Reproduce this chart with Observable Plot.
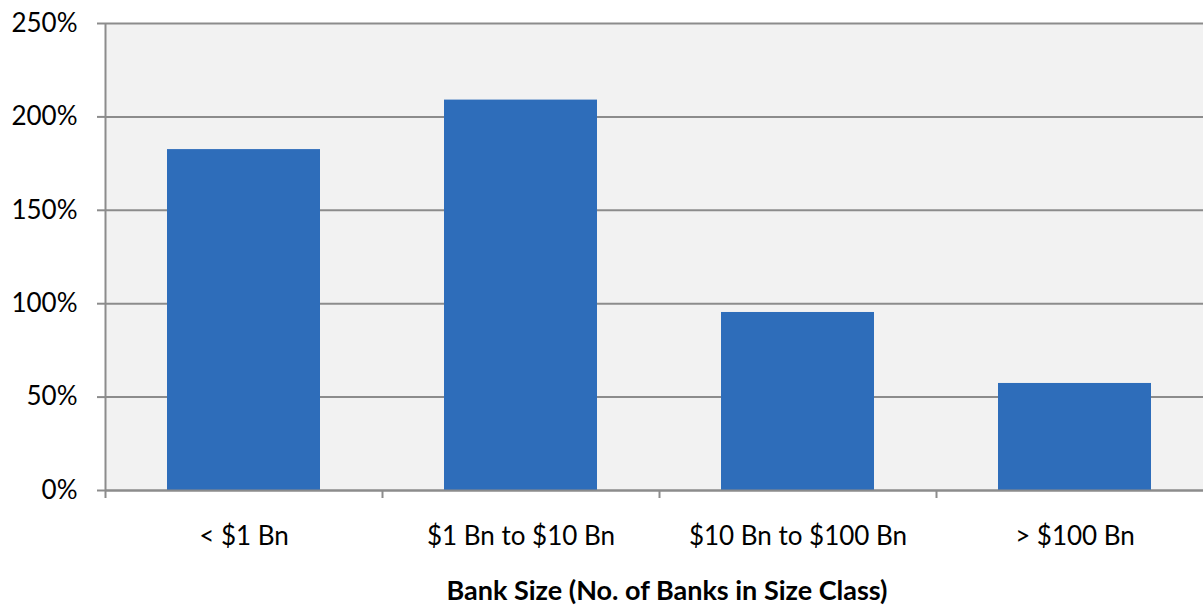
<!DOCTYPE html>
<html><head><meta charset="utf-8">
<script src="https://cdn.jsdelivr.net/npm/d3@7"></script>
<script src="https://cdn.jsdelivr.net/npm/@observablehq/plot@0.6"></script>
<style>
body{margin:0;background:#fff;overflow:hidden;}
#chart{position:relative;width:1203px;height:606px;overflow:hidden;}
#title{position:absolute;left:131px;width:1072px;top:576px;height:28px;line-height:28px;text-align:center;font-family:Lato, sans-serif;font-weight:bold;font-size:27px;color:#000;white-space:nowrap;}
</style>
</head><body>
<div id="chart"></div>
<script>
const categories = ["< $1 Bn", "$1 Bn to $10 Bn", "$10 Bn to $100 Bn", "> $100 Bn"];
const values = [1.825, 2.09, 0.953, 0.573];
const yTicks = [0, 0.5, 1, 1.5, 2, 2.5];
const xTitle = "Bank Size (No. of Banks in Size Class)";

const data = categories.map((c, i) => ({category: c, value: values[i]}));
const W = 1203, H = 576, mL = 105, mR = -10, mT = 23, mB = 86;
const step = (W - mL - mR) / categories.length;
const grid = "#8c8c8c";

const plot = Plot.plot({
  width: W, height: H,
  marginLeft: mL, marginRight: mR, marginTop: mT, marginBottom: mB,
  style: {fontFamily: "Lato, sans-serif", fontSize: "26px", color: "#000", background: "#fff", overflow: "hidden"},
  x: {domain: categories, paddingInner: 0.448, paddingOuter: 0.224, label: null},
  y: {domain: [0, 2.5], label: null},
  marks: [
    Plot.frame({fill: "#f2f2f2", stroke: null}),
    Plot.ruleY(yTicks, {stroke: grid, strokeWidth: 2}),
    Plot.barY(data, {x: "category", y: "value", fill: "#2e6dba"}),
    Plot.ruleY([0], {stroke: grid, strokeWidth: 2}),
    Plot.ruleX([categories[0]], {dx: -step / 2, stroke: grid, strokeWidth: 2, insetBottom: -8}),
    Plot.ruleX(categories.slice(1), {x: d => d, y1: 0, y2: 0, dx: -step / 2, stroke: grid, strokeWidth: 2, insetBottom: -8}),
    Plot.axisY({ticks: yTicks, tickFormat: d => Math.round(d * 100) + "%", tickSize: 8, tickPadding: 20, stroke: grid, strokeWidth: 2, fontSize: 26, fill: "#000"}),
    Plot.axisX({tickSize: 0, tickPadding: 36, fontSize: 26, fill: "#000"})
  ]
});
document.getElementById("chart").appendChild(plot);
const t = document.createElement("div");
t.id = "title"; t.textContent = xTitle;
document.getElementById("chart").appendChild(t);
</script>
</body></html>
